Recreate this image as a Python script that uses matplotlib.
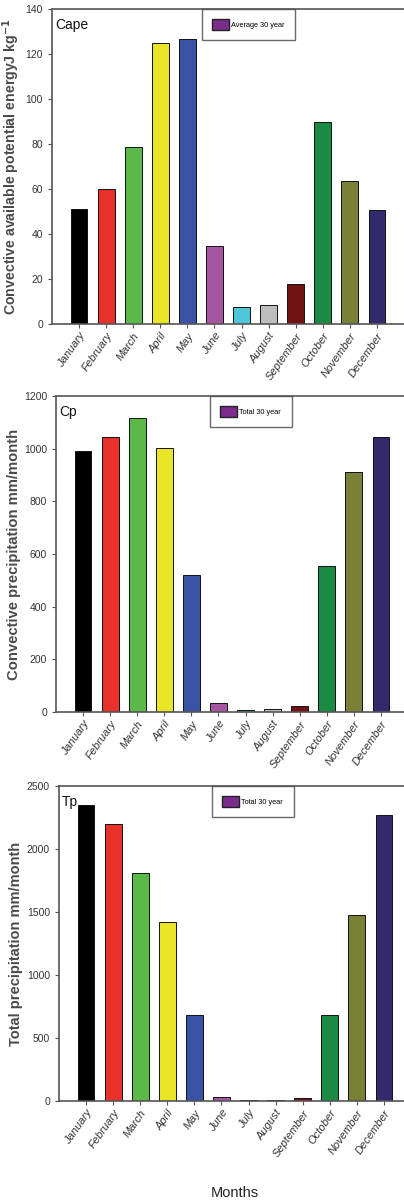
import numpy as np
import matplotlib.pyplot as plt
from matplotlib.patches import Patch

months = ['January', 'February', 'March', 'April', 'May', 'June', 'July',
          'August', 'September', 'October', 'November', 'December']
bar_colors = ['#000000', '#e8312a', '#5bba47', '#e9e527', '#3a53a4', '#a656a1',
              '#4dc7d9', '#bbbdbf', '#731214', '#1b8a43', '#7a8035', '#312a6c']

# monthly values
cape = [51, 60, 78.5, 125, 126.5, 34.5, 7.5, 8.5, 18, 90, 63.5, 50.5]
cp = [990, 1045, 1115, 1003, 522, 35, 8, 10, 22, 553, 910, 1045]
tp = [2350, 2195, 1810, 1420, 685, 35, 10, 10, 20, 685, 1480, 2270]

plt.rcParams['font.family'] = ['Liberation Sans', 'DejaVu Sans']
W, H = 404, 1203

fig = plt.figure(figsize=(W / 100, H / 100), dpi=100)

panels = [
    # values, left/top/bottom px, ymax, step, tag, ylabel, ylabel size, legend label, legend left px, label right px
    (cape, 52, 9, 324, 140, 20, 'Cape',
     'Convective available potential energyJ kg$^{\\mathbf{-1}}$', 10.2, 'Average 30 year', 202, 22),
    (cp, 56, 396, 712, 1200, 200, 'Cp',
     'Convective precipitation mm/month', 10.7, 'Total 30 year', 210, 21),
    (tp, 59, 786, 1101, 2500, 500, 'Tp',
     'Total precipitation mm/month', 10.5, 'Total 30 year', 212, 23),
]

x = np.arange(len(months))
for vals, lpx, tpx, bpx, ymax, step, tag, ylab, ylsize, leg, legx, labx in panels:
    ax = fig.add_axes([lpx / W, 1 - bpx / H, 352 / W, (bpx - tpx) / H])
    ax.bar(x, vals, width=0.62, color=bar_colors, edgecolor='#111111', linewidth=0.7)
    ax.set_xlim(-1, 12)
    ax.set_ylim(0, ymax)
    ax.set_yticks(np.arange(0, ymax + 1, step))
    ax.set_xticks(x)
    ax.set_xticklabels(months, rotation=55, ha='right', rotation_mode='anchor',
                       fontstyle='italic', fontsize=8, color='#333333')
    for t in ax.get_yticklabels():
        t.set_fontsize(7.5)
        t.set_color('#333333')
    ax.tick_params(axis='both', length=3, width=0.8, color='#555555')
    ax.tick_params(axis='x', pad=2)
    for s in ['top', 'left', 'bottom']:
        ax.spines[s].set_color('#555555')
        ax.spines[s].set_linewidth(1.2)
    ax.spines['right'].set_visible(False)
    ax.set_ylabel(ylab, fontsize=ylsize, fontweight='bold', color='#4a4a4a')
    ax.yaxis.set_label_coords((labx - lpx) / 352, 0.5)
    ax.text(3 / 352, 0.97, tag, transform=ax.transAxes, fontsize=10,
            va='top', ha='left', color='#111111')
    lg = ax.legend(handles=[Patch(facecolor='#7b2d8e', edgecolor='#222222', label=leg)],
                   loc='upper left', bbox_to_anchor=((legx - lpx) / 352, 1.0),
                   fancybox=False, frameon=True, prop={'size': 5.3},
                   handlelength=2.2, handleheight=1.8, handletextpad=0.4,
                   borderpad=1.4, borderaxespad=0)
    lg.get_frame().set_edgecolor('#444444')
    lg.get_frame().set_linewidth(1.0)

fig.text(235 / W, 1 - 1193 / H, 'Months', ha='center', va='center', fontsize=10.5,
         color='#222222')

fig.savefig('out.png', dpi=100)
